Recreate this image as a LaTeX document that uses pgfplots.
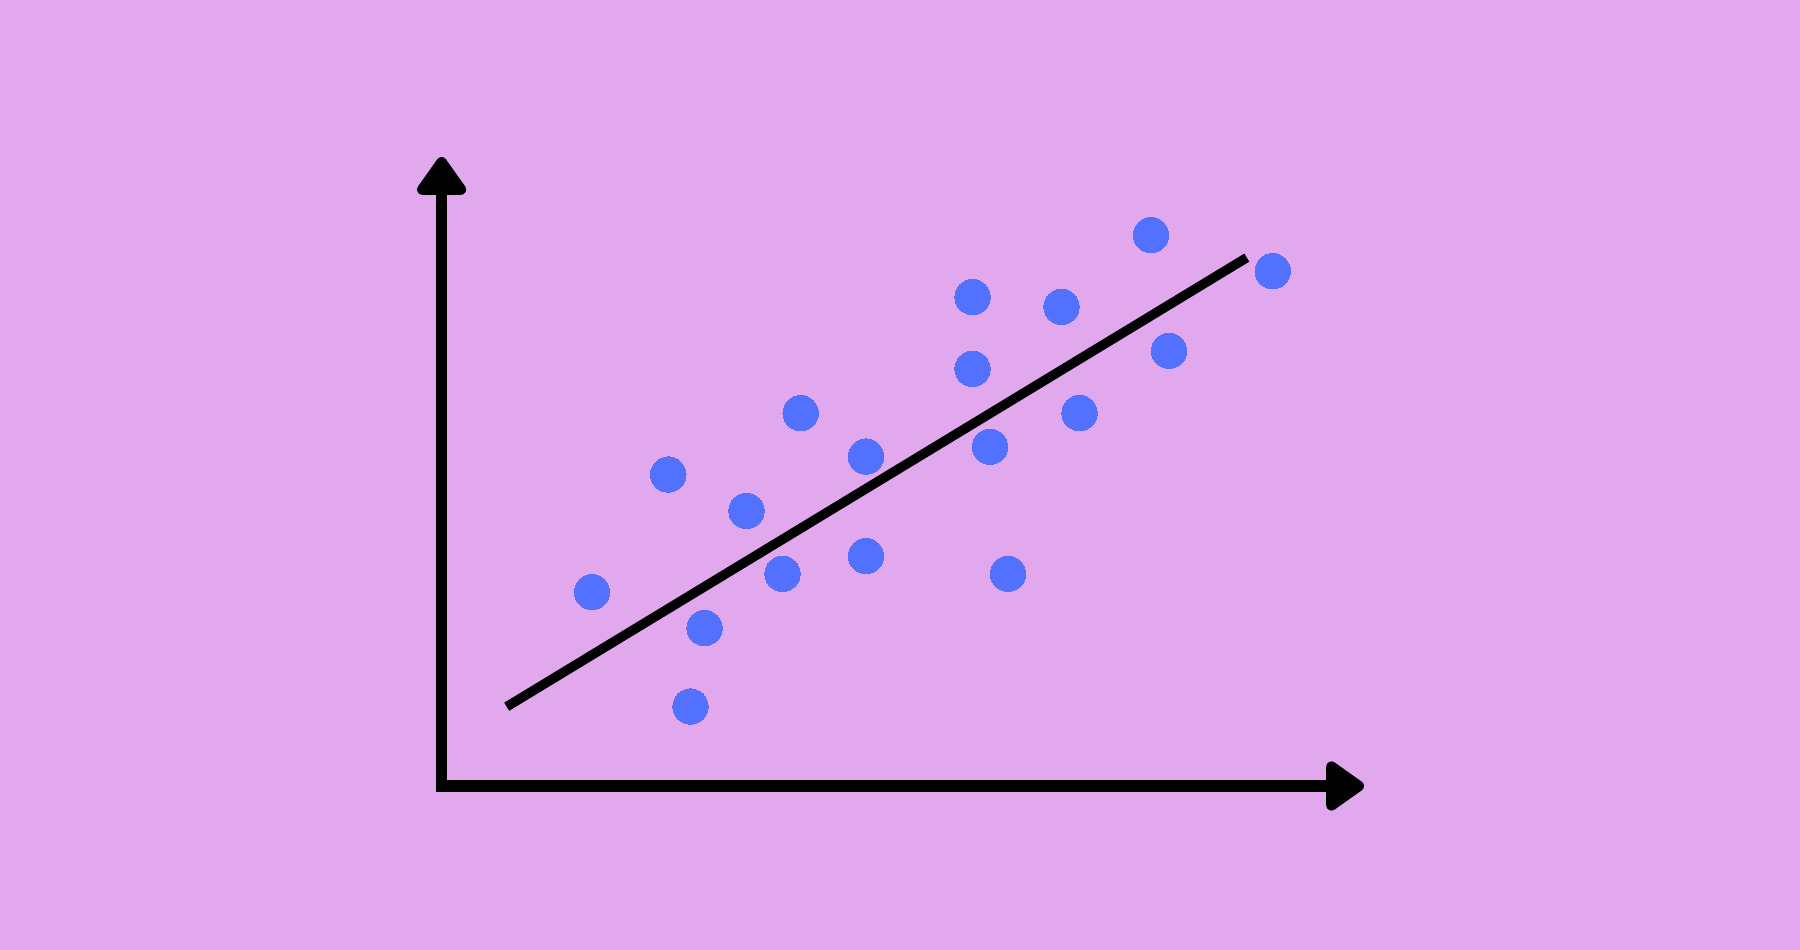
\documentclass[border=0pt]{standalone}
\usepackage{pgfplots}
\pgfplotsset{compat=1.18}
\usetikzlibrary{arrows.meta}
\definecolor{bgpink}{RGB}{225,168,238}
\definecolor{dotblue}{RGB}{82,113,255}
\begin{document}
\begin{tikzpicture}
\fill[bgpink] (0,0) rectangle (18cm,9.5cm);
\begin{axis}[at={(0,0)}, anchor=south west, scale only axis,
  width=18cm, height=9.5cm, xmin=0, xmax=1800, ymin=0, ymax=950,
  y dir=reverse, hide axis, clip=false]
% axes (L shape with arrow heads)
\addplot[black, line width=0.117cm, line join=miter,
  {Triangle[width=0.56cm, length=0.42cm, round]}-{Triangle[width=0.56cm, length=0.42cm, round]}]
  coordinates {(441.6,157) (441.6,786) (1364,786)};
% regression line
\addplot[black, line width=0.095cm, line cap=butt]
  coordinates {(506.7,706.7) (1246.8,257.6)};
% data points
\addplot[dotblue, only marks, mark=*, mark size=0.177cm,
  mark options={draw=dotblue, fill=dotblue, line width=0pt}]
  coordinates {
  (592,592) (704.5,628) (690.5,706.5) (668.3,474.5) (746.5,510.8)
  (800.6,413) (782.5,573.7) (866,456.5) (866,556) (972.5,297)
  (972.5,368.7) (990,446.7) (1008,573.7) (1061.5,306.7) (1079.5,413)
  (1151,235) (1169,350.7) (1272.7,271)
  };
\end{axis}
\end{tikzpicture}
\end{document}
